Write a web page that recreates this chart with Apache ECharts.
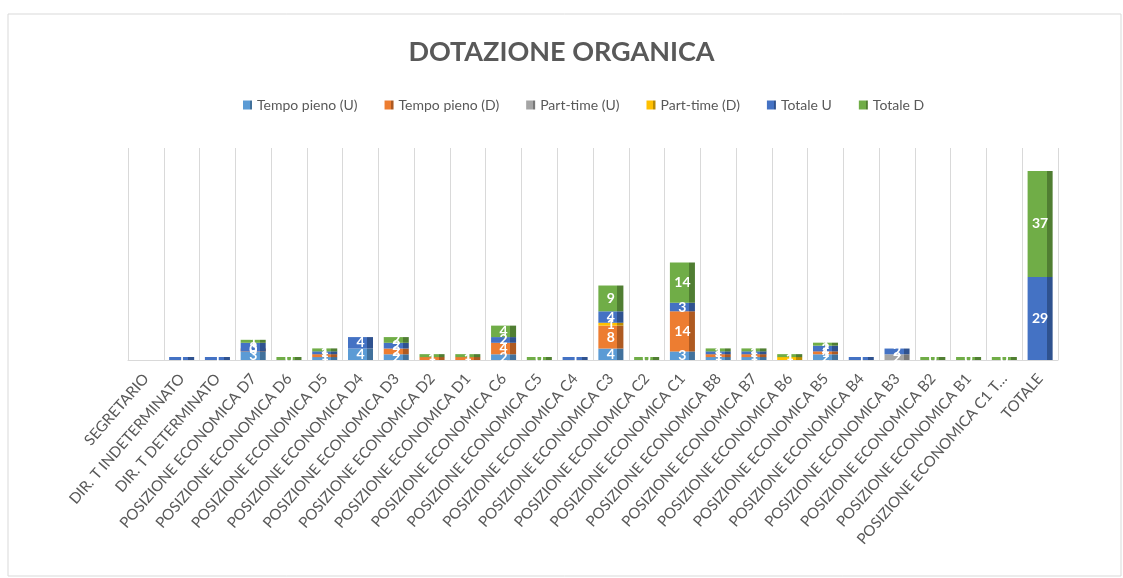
<!DOCTYPE html>
<html>
<head>
<meta charset="utf-8">
<script src="https://cdn.jsdelivr.net/npm/echarts@6/dist/echarts.min.js"></script>
<style>
html,body{margin:0;padding:0;background:#fff;}
#c{width:1123px;height:578px;}
</style>
</head>
<body>
<div id="c"></div>
<script>
const categories = ["SEGRETARIO","DIR. T INDETERMINATO","DIR. T DETERMINATO","POSIZIONE ECONOMICA D7","POSIZIONE ECONOMICA D6","POSIZIONE ECONOMICA D5","POSIZIONE ECONOMICA D4","POSIZIONE ECONOMICA D3","POSIZIONE ECONOMICA D2","POSIZIONE ECONOMICA D1","POSIZIONE ECONOMICA C6","POSIZIONE ECONOMICA C5","POSIZIONE ECONOMICA C4","POSIZIONE ECONOMICA C3","POSIZIONE ECONOMICA C2","POSIZIONE ECONOMICA C1","POSIZIONE ECONOMICA B8","POSIZIONE ECONOMICA B7","POSIZIONE ECONOMICA B6","POSIZIONE ECONOMICA B5","POSIZIONE ECONOMICA B4","POSIZIONE ECONOMICA B3","POSIZIONE ECONOMICA B2","POSIZIONE ECONOMICA B1","POSIZIONE ECONOMICA C1 T…","TOTALE"];
const tempoPienoU = [null,null,null,3,null,1,4,2,null,null,2,null,null,4,null,3,1,1,null,2,null,null,null,null,null,null];
const tempoPienoD = [null,null,null,0,null,1,null,2,1,1,4,null,null,8,null,14,1,1,null,1,null,null,null,null,null,null];
const partTimeU   = [null,null,null,null,null,null,null,null,null,null,null,null,null,null,null,null,null,null,null,null,null,2,null,null,null,null];
const partTimeD   = [null,null,null,null,null,null,null,null,null,null,null,null,null,1,null,null,null,null,1,null,null,null,null,null,null,null];
const totaleU     = [null,1,1,3,null,1,4,2,null,null,2,null,1,4,null,3,1,1,null,2,1,2,null,null,null,29];
const totaleD     = [null,null,null,1,0,1,null,2,1,1,4,0,null,9,0,14,1,1,1,1,null,null,0,0,0,37];

const seriesDefs = [
  {name:"Tempo pieno (U)", data:tempoPienoU, color:"#5B9BD5", dark:"#41719C"},
  {name:"Tempo pieno (D)", data:tempoPienoD, color:"#ED7D31", dark:"#AE5A21"},
  {name:"Part-time (U)",   data:partTimeU,   color:"#A5A5A5", dark:"#787878"},
  {name:"Part-time (D)",   data:partTimeD,   color:"#FFC000", dark:"#BC8C00"},
  {name:"Totale U",        data:totaleU,     color:"#4472C4", dark:"#2F528F"},
  {name:"Totale D",        data:totaleD,     color:"#70AD47", dark:"#507E32"}
];

const FONT = "Lato";
const chart = echarts.init(document.getElementById('c'), null, {renderer:'canvas'});
chart.setOption({
  animation:false,
  color: seriesDefs.map(s=>s.color),
  title:{
    text:"DOTAZIONE ORGANICA",
    left:'center', top:34,
    textStyle:{fontFamily:FONT, fontSize:27, fontWeight:'bold', color:'#595959'}
  },
  legend:{
    top:93, left:238,
    icon:'rect', itemWidth:9, itemHeight:9, itemGap:27,
    textStyle:{fontFamily:FONT, fontSize:14, color:'#595959'},
    data: seriesDefs.map(s=>s.name)
  },
  graphic:[{type:'rect', shape:{x:8,y:14,width:1113,height:562}, style:{fill:'none', stroke:'#d9d9d9', lineWidth:1}, silent:true}],
  grid:{left:128, right:65, top:148, bottom:218},
  xAxis:{
    type:'category', data:categories,
    axisLine:{lineStyle:{color:'#d9d9d9'}},
    axisTick:{show:false},
    splitLine:{show:true, lineStyle:{color:'#d9d9d9'}},
    axisLabel:{interval:0, rotate:49, margin:16, fontFamily:FONT, fontSize:15, color:'#595959'}
  },
  yAxis:{type:'value', min:0, max:74, show:false, splitLine:{show:false}},
  series: seriesDefs.map(s=>({
    name:s.name, type:'bar', stack:'tot', data:s.data,
    barWidth:'70%', barMinHeight:3,
    itemStyle:{color:{type:'linear', x:0,y:0,x2:1,y2:0, colorStops:[
      {offset:0,color:s.color},{offset:0.76,color:s.color},{offset:0.76,color:s.dark},{offset:1,color:s.dark}]}},
    label:{show:true, position:'inside', color:'#fff', fontFamily:FONT, fontSize:14, fontWeight:'bold',
      formatter:p=>String(p.value)}
  }))
});
</script>
</body>
</html>
